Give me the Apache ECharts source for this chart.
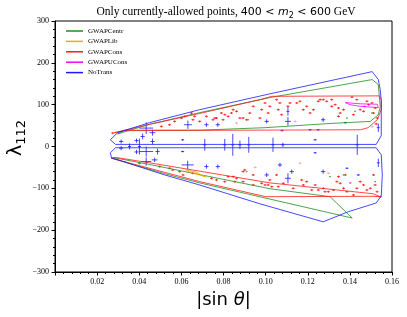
<!DOCTYPE html>
<html>
<head>
<meta charset="utf-8">
<script src="https://cdn.jsdelivr.net/npm/echarts@6/dist/echarts.min.js"></script>
<style>
html,body{margin:0;padding:0;background:#fff;}
#chart{width:407px;height:317px;}
</style>
</head>
<body>
<div id="chart"></div>
<script>
// ---- axis ranges / ticks ----
const xRange = [0, 0.16];
const xInterval = 0.02;
const yRange = [-300, 300];
const yInterval = 100;

// ---- contour outlines [|sin θ|, λ112] ----
const noTransUpper = [[0.0297,33],[0.0449,57],[0.0687,88],[0.1021,126],[0.1506,179],[0.1535,160],[0.1544,136],[0.1549,110],[0.1549,26],[0.1525,5],[0.0287,5],[0.0263,16],[0.0297,33]];
const noTransLower = [[0.0287,-3],[0.1525,-3],[0.1549,-20],[0.1554,-68],[0.1549,-118],[0.1525,-135],[0.1392,-156],[0.1273,-180],[0.0973,-137],[0.0687,-92],[0.0521,-68],[0.0268,-27],[0.0263,-15],[0.0287,-3]];
const centrUpper = [[0.0297,30],[0.0449,53],[0.0687,81],[0.1021,117],[0.1506,160],[0.1535,148],[0.1544,95],[0.1535,76],[0.1497,60],[0.1306,55],[0.0997,45],[0.0687,39],[0.0330,39],[0.0297,30]];
const centrLower = [[0.0282,-27],[0.0449,-43],[0.1021,-101],[0.1306,-120],[0.1411,-171],[0.0687,-87],[0.0521,-65],[0.0268,-28],[0.0282,-27]];
const consUpper = [[0.0282,33],[0.0449,53],[0.0687,79],[0.0973,112],[0.1030,120],[0.1540,121],[0.1549,112],[0.1549,88],[0.1530,64],[0.1487,45],[0.1450,40],[0.0330,38],[0.0282,33]];
const consLower = [[0.0287,-26],[0.0449,-39],[0.1021,-87],[0.1511,-113],[0.1544,-120],[0.1506,-119],[0.1001,-120],[0.0687,-84],[0.0268,-28],[0.0287,-26]];
const libOutline = [[0.0621,-56],[0.0668,-61],[0.0716,-73],[0.0678,-67],[0.0630,-59],[0.0621,-56]];
const uconsOutline = [[0.1378,105],[0.1450,102],[0.1530,101],[0.1535,93],[0.1450,96],[0.1400,100],[0.1378,105]];

// ---- allowed points ----
const consPoints = [
[0.0719,72],[0.0759,68],[0.0806,76],[0.0838,80],[0.0846,88],[0.0862,84],[0.0893,68],[0.0910,64],
[0.0997,104],[0.1020,96],[0.1052,112],[0.1060,88],[0.1076,76],[0.1116,104],[0.1148,104],[0.1163,108],
[0.1179,88],[0.1195,96],[0.1211,80],[0.1250,108],[0.1259,112],[0.1274,112],[0.1290,108],[0.1314,112],
[0.1314,96],[0.1330,100],[0.1346,92],[0.1354,80],[0.1370,88],[0.1410,118],[0.1433,112],[0.1449,88],
[0.1465,84],[0.1481,108],[0.1489,100],[0.1505,104],[0.1512,80],[0.1520,92],[0.0798,64],[0.0973,68],
[0.0925,80],[0.1106,96],[0.1068,104],[0.1227,88],[0.1417,76],[0.1346,72],[0.0505,48],[0.0544,52],
[0.0568,60],[0.0600,68],[0.0616,72],[0.0648,80],[0.0655,64],[0.0687,60],[0.0767,68],[0.0790,80],
[0.0822,72],[0.0878,68],[0.0941,96],[0.0981,88],[0.1012,80],[0.0663,72],[0.0750,64],[0.0274,32],
[0.1530,68],[0.1525,54],
[0.0846,-72],[0.0854,-84],[0.0893,-60],[0.0941,-68],[0.0997,-92],[0.1020,-80],[0.1052,-68],[0.1060,-96],
[0.1131,-100],[0.1171,-80],[0.1179,-92],[0.1195,-84],[0.1219,-104],[0.1235,-92],[0.1250,-104],[0.1274,-100],
[0.1282,-108],[0.1298,-108],[0.1322,-104],[0.1338,-84],[0.1354,-88],[0.1370,-100],[0.1386,-108],[0.1417,-116],
[0.1433,-100],[0.1449,-84],[0.1465,-92],[0.1481,-104],[0.1497,-100],[0.1512,-68],[0.1520,-92],[0.1529,-108],
[0.1544,-120],[0.1378,-68],[0.1346,-72],[0.1029,-96],[0.1084,-88],[0.0941,-92],[0.0893,-84],[0.0806,-84],
[0.0767,-80],[0.0743,-76],[0.0497,-48],[0.0544,-52],[0.0592,-60],[0.0608,-68],[0.0655,-64],[0.0822,-72],
[0.0862,-76],[0.0901,-56],[0.0981,-88],[0.1012,-92],[0.0401,-40],[0.0559,-56]
];
const consFadedPoints = [[0.0862,56],[0.1298,-64],[0.1163,-40],[0.1506,47],[0.1140,60],[0.0950,-50]];
const centrPoints = [[0.1386,68],[0.1425,84],[0.0917,64],[0.1505,80],[0.1370,-68],[0.1520,-84],[0.0910,-60],[0.1306,-72]];
const uconsPoints = [[0.1402,-87],[0.1470,96]];
// blue points: [x, y, x half-error, y half-error]
const noTransPoints = [
[0.0314,12,0.001,5],[0.0314,-4,0.001,5],[0.0354,0,0.0005,7],[0.0387,14,0.001,5],[0.0387,-13,0.001,5],
[0.0416,24,0.001,7],[0.0433,44,0.0033,14],[0.0463,33,0.0014,7],[0.0433,-12,0.0033,12],[0.0401,0,0.0005,19],
[0.0463,12,0.001,7],[0.0487,-12,0.001,7],[0.0433,-36,0.0024,10],[0.0473,-32,0.0014,5],[0.0606,16,0.0005,2],
[0.0606,-12,0.0005,2],[0.0631,52,0.0019,10],[0.0630,-44,0.0029,10],[0.0711,4,0.0005,14],[0.0719,52,0.001,5],
[0.0719,-48,0.001,5],[0.0773,52,0.001,5],[0.0773,-48,0.001,5],[0.0806,4,0.0005,14],[0.0844,4,0.0005,26],
[0.0878,4,0.0005,10],[0.0920,4,0.0005,19],[0.1005,60,0.001,5],[0.1005,-68,0.001,5],[0.1035,4,0.0005,17],
[0.1082,4,0.0005,5],[0.1106,84,0.0005,10],[0.1106,60,0.0014,10],[0.1106,-76,0.0014,12],[0.1078,38,0.0005,2],
[0.1068,-44,0.001,5],[0.1124,-60,0.001,5],[0.1211,40,0.0005,2],[0.1249,40,0.0005,2],[0.1235,16,0.0005,2],
[0.1235,-15,0.0005,2],[0.1273,64,0.001,5],[0.1273,-60,0.001,5],[0.1378,57,0.0005,2],[0.1386,-52,0.0005,2],
[0.1435,4,0.0005,24],[0.1440,-68,0.0005,2],[0.1535,45,0.0005,10],[0.1535,-39,0.0005,10]
];

const C_GREEN = '#1f8f1f', C_ORANGE = '#ffa500', C_RED = '#ff1a1a', C_MAG = '#ff00ff', C_BLUE = '#1a1aff';

function outline(name, data, color) {
  return {
    type: 'line', name: name, data: data, showSymbol: false, symbol: 'none',
    lineStyle: {color: color, width: 1, opacity: 0.8},
    itemStyle: {color: color}, silent: true, animation: false, z: 3
  };
}
function plusSeries(name, data, color, arm, opacity) {
  return {
    type: 'custom', name: name, data: data, animation: false, z: 2,
    encode: {x: 0, y: 1},
    renderItem: function (params, api) {
      const c = api.coord([api.value(0), api.value(1)]);
      return {type: 'group', children: [
        {type: 'line', shape: {x1: c[0]-arm, y1: c[1], x2: c[0]+arm, y2: c[1]}, style: {stroke: color, lineWidth: 1, opacity: opacity}},
        {type: 'line', shape: {x1: c[0], y1: c[1]-arm*0.7, x2: c[0], y2: c[1]+arm*0.7}, style: {stroke: color, lineWidth: 1, opacity: opacity}}
      ]};
    }
  };
}
function errSeries(name, data, color) {
  return {
    type: 'custom', name: name, data: data, animation: false, z: 2,
    encode: {x: 0, y: 1},
    renderItem: function (params, api) {
      const x = api.value(0), y = api.value(1), dx = api.value(2), dy = api.value(3);
      const c = api.coord([x, y]);
      const l = api.coord([x - dx, y]), r = api.coord([x + dx, y]);
      const t = api.coord([x, y + dy]), b = api.coord([x, y - dy]);
      return {type: 'group', children: [
        {type: 'line', shape: {x1: Math.min(l[0], c[0]-1.5), y1: c[1], x2: Math.max(r[0], c[0]+1.5), y2: c[1]}, style: {stroke: color, lineWidth: 1, opacity: 0.8}},
        {type: 'line', shape: {x1: c[0], y1: t[1], x2: c[0], y2: b[1]}, style: {stroke: color, lineWidth: 1, opacity: 0.8}}
      ]};
    }
  };
}

const chart = echarts.init(document.getElementById('chart'), null, {renderer: 'canvas'});
const serif = 'Liberation Serif';
const sans = 'DejaVu Sans';
chart.setOption({
  backgroundColor: '#fff',
  animation: false,
  grid: {left: 55, right: 15, top: 21, bottom: 45, show: true, borderColor: '#000', borderWidth: 1, backgroundColor: 'transparent'},
  legend: {
    data: ['GWAPCentr', 'GWAPLib', 'GWAPCons', 'GWAPUCons', 'NoTrans'],
    orient: 'vertical', left: 61, top: 22, icon: 'rect', itemWidth: 17, itemHeight: 1.5, itemGap: 2.4,
    textStyle: {fontFamily: serif, fontSize: 7, color: '#000', lineHeight: 8}, selectedMode: false
  },
  xAxis: {
    type: 'value', min: xRange[0], max: xRange[1], interval: xInterval,
    axisLine: {onZero: false, lineStyle: {color: '#000', width: 1}},
    axisTick: {show: true, length: 3.5, lineStyle: {color: '#000'}},
    minorTick: {show: true, splitNumber: 5, length: 2, lineStyle: {color: '#000'}},
    splitLine: {show: false},
    axisLabel: {showMinLabel: false, fontFamily: serif, fontSize: 8, color: '#000', margin: 6,
      formatter: v => v.toFixed(2)}
  },
  yAxis: {
    type: 'value', min: yRange[0], max: yRange[1], interval: yInterval,
    axisLine: {show: true, onZero: false, lineStyle: {color: '#000', width: 1}},
    axisTick: {show: true, length: 3.5, lineStyle: {color: '#000'}},
    minorTick: {show: true, splitNumber: 5, length: 2, lineStyle: {color: '#000'}},
    splitLine: {show: false},
    axisLabel: {fontFamily: serif, fontSize: 8, color: '#000', margin: 6,
      formatter: v => String(v).replace('-', '\u2212')}
  },
  graphic: [
    {type: 'text', x: 226, y: 12, silent: true,
      style: {
        text: '{a|Only currently-allowed points, }{m|400 < }{mi|m}{s|2}{m| < 600}{a| GeV}',
        align: 'center', verticalAlign: 'middle',
        rich: {
          a: {fontFamily: serif, fontSize: 11.5, fill: '#000', lineHeight: 16},
          m: {fontFamily: sans, fontSize: 11, fill: '#000', lineHeight: 16},
          mi: {fontFamily: sans, fontStyle: 'italic', fontSize: 11, fill: '#000', lineHeight: 16},
          s: {fontFamily: sans, fontSize: 8, fill: '#000', lineHeight: 9, verticalAlign: 'bottom'}
        }
      }},
    {type: 'text', x: 223.5, y: 300, silent: true,
      style: {
        text: '{m||sin }{mi|θ}{m||}', align: 'center', verticalAlign: 'middle',
        rich: {
          m: {fontFamily: sans, fontSize: 18, fill: '#000'},
          mi: {fontFamily: sans, fontStyle: 'italic', fontSize: 18, fill: '#000'}
        }
      }},
    {type: 'text', x: 16, y: 138, rotation: Math.PI / 2, silent: true,
      style: {
        text: '{m|λ}{s|112}', align: 'center', verticalAlign: 'middle',
        rich: {
          m: {fontFamily: sans, fontSize: 19, fill: '#000', lineHeight: 24},
          s: {fontFamily: sans, fontSize: 13, fill: '#000', lineHeight: 14, verticalAlign: 'bottom'}
        }
      }}
  ],
  series: [
    plusSeries('consPts', consPoints, C_RED, 1.5, 0.85),
    plusSeries('consFaded', consFadedPoints, '#ff9090', 1.5, 0.7),
    plusSeries('centrPts', centrPoints, '#40b040', 1, 0.8),
    plusSeries('uconsPts', uconsPoints, C_MAG, 1.2, 0.7),
    errSeries('ntPts', noTransPoints, C_BLUE),
    outline('GWAPCentr', centrUpper, C_GREEN),
    outline('GWAPCentr', centrLower, C_GREEN),
    outline('GWAPLib', libOutline, C_ORANGE),
    outline('GWAPCons', consUpper, C_RED),
    outline('GWAPCons', consLower, C_RED),
    outline('GWAPUCons', uconsOutline, C_MAG),
    outline('NoTrans', noTransUpper, C_BLUE),
    outline('NoTrans', noTransLower, C_BLUE)
  ]
});
</script>
</body>
</html>
